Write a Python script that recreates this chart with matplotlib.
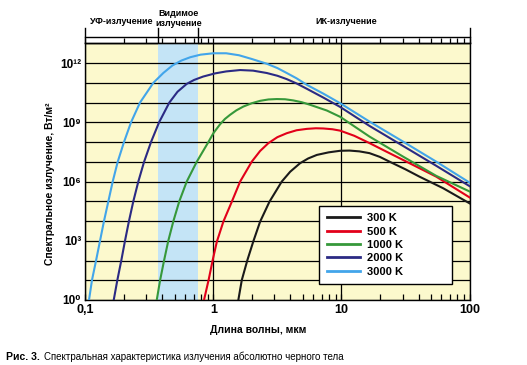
import matplotlib.pyplot as plt
from matplotlib.ticker import LogLocator, NullLocator, NullFormatter
from matplotlib.transforms import blended_transform_factory

plt.rcParams['font.family'] = ['Liberation Sans', 'DejaVu Sans']

# log10 of wavelength (um)  /  log10 of spectral exitance (W/m^2 per m)
lx_300 = [0.195, 0.222, 0.266, 0.313, 0.365, 0.438, 0.534, 0.60, 0.677, 0.74, 0.808, 0.90, 0.99, 1.063,
          1.14, 1.219, 1.30, 1.375, 1.50, 1.609, 1.795, 2.0]
ly_300 = [0, 1.01, 2.03, 2.99, 3.97, 4.98, 6.0, 6.5, 6.93, 7.17, 7.35, 7.48, 7.56, 7.57,
          7.53, 7.44, 7.25, 7.01, 6.62, 6.25, 5.66, 4.9]

lx_500 = [-0.073, -0.036, -0.005, 0.027, 0.078, 0.144, 0.209, 0.30, 0.365, 0.43, 0.50, 0.573, 0.65, 0.73,
          0.80, 0.859, 0.93, 0.99, 1.10, 1.219, 1.35, 1.48, 1.74, 2.0]
ly_500 = [0, 1.05, 2.03, 2.95, 3.97, 4.98, 6.0, 7.01, 7.55, 7.95, 8.25, 8.45, 8.6, 8.67,
          8.7, 8.69, 8.65, 8.58, 8.32, 7.95, 7.52, 7.1, 6.25, 5.2]

lx_1000 = [-0.442, -0.416, -0.385, -0.352, -0.312, -0.266, -0.208, -0.13, -0.039, 0.0, 0.052, 0.09, 0.13,
           0.18, 0.234, 0.30, 0.365, 0.43, 0.495, 0.56, 0.625, 0.69, 0.755, 0.886, 0.99, 1.219, 1.48, 1.74, 2.0]
ly_1000 = [0, 1, 2, 3, 4, 5, 6, 7, 8, 8.45, 8.9, 9.17, 9.38,
           9.61, 9.8, 9.97, 10.09, 10.16, 10.18, 10.17, 10.11, 10.02, 9.89, 9.6, 9.28, 8.28, 7.27, 6.29, 5.5]

lx_2000 = [-0.778, -0.75, -0.719, -0.69, -0.659, -0.625, -0.586, -0.541, -0.487, -0.424, -0.344, -0.28,
           -0.208, -0.15, -0.08, 0.013, 0.10, 0.209, 0.31, 0.417, 0.50, 0.573, 0.65, 0.73, 0.86, 0.99,
           1.219, 1.48, 1.74, 2.0]
ly_2000 = [0, 1, 2, 3, 4, 5, 6, 7, 8, 9, 10, 10.55,
           10.95, 11.15, 11.32, 11.48, 11.58, 11.65, 11.62, 11.5, 11.36, 11.19, 10.97, 10.7, 10.25, 9.78,
           8.82, 7.81, 6.8, 5.77]

lx_3000 = [-0.971, -0.948, -0.916, -0.885, -0.854, -0.82, -0.786, -0.747, -0.698, -0.643, -0.573, -0.469,
           -0.391, -0.32, -0.25, -0.18, -0.10, 0.0, 0.10, 0.20, 0.30, 0.417, 0.50, 0.573, 0.65, 0.73, 0.86,
           0.99, 1.219, 1.48, 1.74, 2.0]
ly_3000 = [0, 1, 2, 3, 4, 5, 6, 7, 8, 9, 10, 11,
           11.5, 11.88, 12.13, 12.3, 12.43, 12.5, 12.5, 12.4, 12.21, 11.97, 11.75, 11.5, 11.23, 10.9, 10.45,
           9.97, 9.04, 8.03, 7.01, 5.95]

series = [
    ('300 K', lx_300, ly_300, '#1a1a1a'),
    ('500 K', lx_500, ly_500, '#e2001a'),
    ('1000 K', lx_1000, ly_1000, '#36983a'),
    ('2000 K', lx_2000, ly_2000, '#2b2a84'),
    ('3000 K', lx_3000, ly_3000, '#42a5ea'),
]

visible = (0.37, 0.765)
x_ticks = [0.1, 1, 10, 100]
x_labels = ['0,1', '1', '10', '100']
y_exps = list(range(14))
y_labels = {0: '10⁰', 3: '10³', 6: '10⁶', 9: '10⁹', 12: '10¹²'}

fig = plt.figure(figsize=(5.27, 3.65), dpi=100)
W, H = 527, 365
ax = fig.add_axes([85.3 / W, 1 - 300 / H, (469.5 - 85.3) / W, (300 - 43.4) / H])
ax.set_facecolor('#fcf9cd')

ax.axvspan(visible[0], visible[1], color='#c4e4f6', lw=0, zorder=0.2)

for name, lx, ly, col in series:
    ax.plot([10 ** v for v in lx], [10 ** v for v in ly], color=col, lw=1.5, label=name, zorder=3)

ax.set_xscale('log')
ax.set_yscale('log')
ax.set_xlim(0.1, 100)
ax.set_ylim(1, 1e13)

ax.set_yticks([10 ** k for k in y_exps])
ax.set_yticklabels([y_labels.get(k, '') for k in y_exps], fontweight='bold', fontsize=8.5)
ax.yaxis.set_minor_locator(NullLocator())
ax.tick_params(axis='y', length=0, pad=3)

ax.set_xticks(x_ticks)
ax.set_xticklabels(x_labels, fontweight='bold', fontsize=9)
ax.xaxis.set_minor_locator(LogLocator(base=10, subs=range(2, 10)))
ax.xaxis.set_minor_formatter(NullFormatter())
ax.tick_params(axis='x', which='both', direction='in', length=4, width=0.9, pad=3)

top = ax.secondary_xaxis('top')
top.set_xticks(x_ticks)
top.xaxis.set_minor_locator(LogLocator(base=10, subs=range(2, 10)))
top.xaxis.set_minor_formatter(NullFormatter())
top.tick_params(which='both', direction='out', length=3.5, width=0.9, labeltop=False)
top.spines['top'].set_linewidth(1)

ax.set_axisbelow(True)
ax.grid(True, which='major', color='black', lw=0.9)
for s in ax.spines.values():
    s.set_linewidth(1)

# spectral bands above the plot
tr = blended_transform_factory(ax.transData, ax.transAxes)
ax.plot([0.1, 100], [1.026, 1.026], color='black', lw=1, transform=tr, clip_on=False)
for xb in [0.1, visible[0], visible[1], 100]:
    ax.plot([xb, xb], [1.007, 1.059], color='black', lw=1, transform=tr, clip_on=False)
ax.text(0.19, 1.087, 'УФ-излучение', transform=tr, ha='center', va='center', fontsize=6.5, fontweight='bold')
ax.text(0.535, 1.097, 'Видимое\nизлучение', transform=tr, ha='center', va='center', fontsize=6.5,
        fontweight='bold', linespacing=1.05)
ax.text(10.9, 1.087, 'ИК-излучение', transform=tr, ha='center', va='center', fontsize=6.5, fontweight='bold')

leg = ax.legend(loc='upper left', bbox_to_anchor=(0.608, 0.0, 0.346, 0.368), mode='expand',
                fancybox=False, framealpha=1, edgecolor='black',
                prop={'weight': 'bold', 'size': 8}, handlelength=3.0, handletextpad=0.6,
                labelspacing=0.3, borderpad=0.7, borderaxespad=0)
leg.get_frame().set_linewidth(1)
for ln in leg.get_lines():
    ln.set_linewidth(2)

fig.text(258 / W, 1 - 329.6 / H, 'Длина волны, мкм', ha='center', va='center', fontsize=7.5, fontweight='bold')
fig.text(50 / W, 1 - 184 / H, 'Спектральное излучение, Вт/м²', ha='center', va='center',
         rotation=90, fontsize=7.5, fontweight='bold')

fig.text(6 / W, 1 - 357 / H, 'Рис. 3.', ha='left', va='center', fontsize=7.5, fontweight='bold')
fig.text(44 / W, 1 - 357 / H, 'Спектральная характеристика излучения абсолютно черного тела',
         ha='left', va='center', fontsize=7)

fig.savefig('out.png', dpi=100)
